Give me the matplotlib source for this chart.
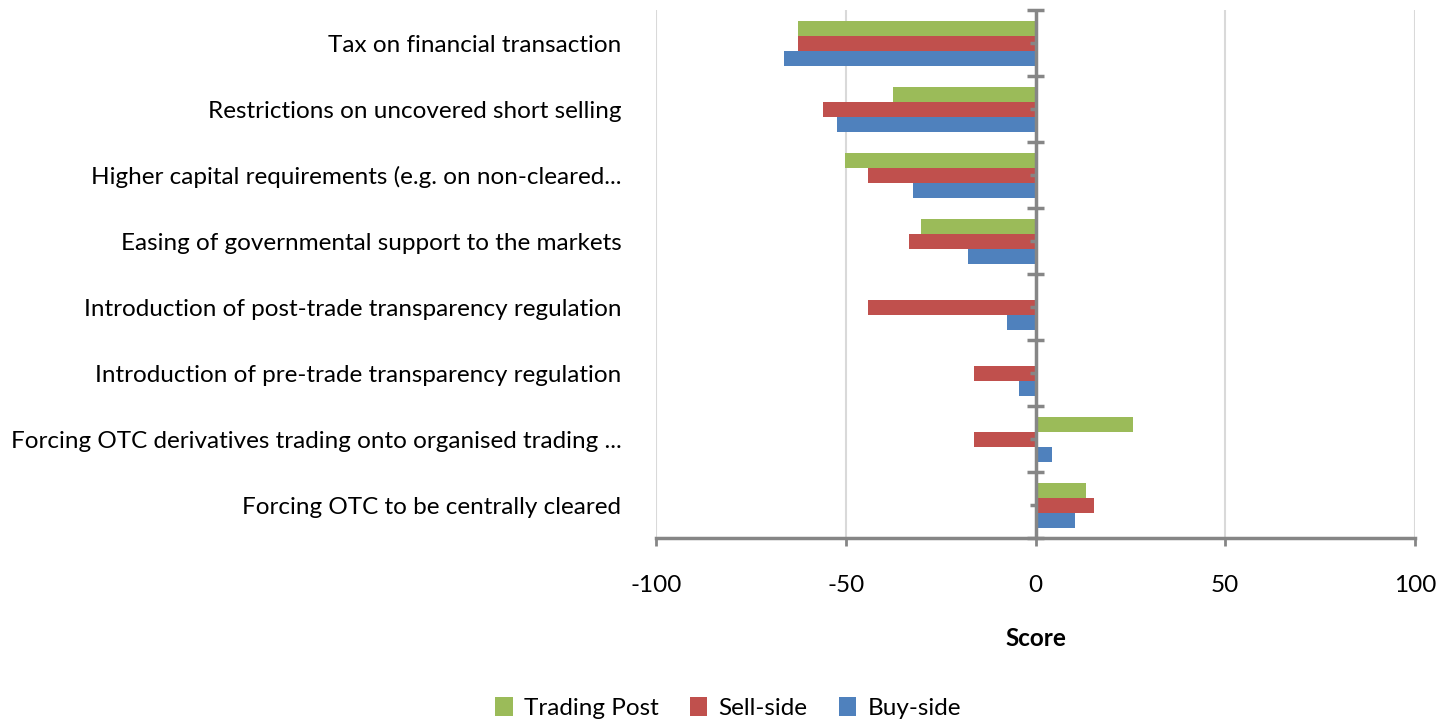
import matplotlib
matplotlib.use('Agg')
import matplotlib.pyplot as plt
import numpy as np

# categories, top to bottom
categories = [
    "Tax on financial transaction",
    "Restrictions on uncovered short selling",
    "Higher capital requirements (e.g. on non-cleared...",
    "Easing of governmental support to the markets",
    "Introduction of post-trade transparency regulation",
    "Introduction of pre-trade transparency regulation",
    "Forcing OTC derivatives trading onto organised trading ...",
    "Forcing OTC to be centrally cleared",
]
trading_post = [-62.7, -37.5, -50.3, -30.1, 0.0, 0.0, 25.7, 13.2]
sell_side = [-62.7, -56.1, -44.2, -33.3, -44.2, -16.3, -16.3, 15.3]
buy_side = [-66.4, -52.4, -32.2, -17.9, -7.5, -4.3, 4.4, 10.3]
x_ticks = [-100, -50, 0, 50, 100]

green = '#9BBB59'
red = '#C0504D'
blue = '#4F81BD'
axis_gray = '#868686'

plt.rcParams['font.family'] = ['Lato', 'DejaVu Sans']
fs = 17.5

fig = plt.figure(figsize=(14.37, 7.22), dpi=100)
ax = fig.add_axes([656 / 1437, 1 - 538 / 722, (1415 - 656) / 1437, (538 - 10) / 722])

y = np.arange(len(categories))
h = 15 / 66
ax.barh(y - h, trading_post, height=h, color=green, label='Trading Post', zorder=2)
ax.barh(y, sell_side, height=h, color=red, label='Sell-side', zorder=2)
ax.barh(y + h, buy_side, height=h, color=blue, label='Buy-side', zorder=2)

ax.set_xlim(-100, 100)
ax.set_ylim(len(categories) - 0.5, -0.5)

# zero axis with its tick marks
ax.axvline(0, color=axis_gray, lw=2.5, zorder=3)
bounds = np.arange(len(categories) + 1) - 0.5
ax.hlines(bounds, -2.3, 2.3, color=axis_gray, lw=2.5, zorder=3, clip_on=False)
ax.hlines(y, -1.5, 0, color=axis_gray, lw=2.5, zorder=3)

ax.set_yticks(y, categories, fontsize=fs)
ax.tick_params(axis='y', length=0, pad=25)

ax.set_xticks(x_ticks, [str(t) for t in x_ticks], fontsize=fs)
ax.tick_params(axis='x', length=6, width=2, color=axis_gray, pad=21)
ax.grid(axis='x', color='#D9D9D9', lw=1.5, zorder=0)
ax.set_axisbelow(True)

for s in ['top', 'right', 'left']:
    ax.spines[s].set_visible(False)
ax.spines['bottom'].set_color(axis_gray)
ax.spines['bottom'].set_linewidth(2.5)

ax.set_xlabel('Score', fontsize=fs, fontweight='bold', labelpad=22)

fig.legend(loc='center', bbox_to_anchor=(728 / 1437, 1 - 708 / 722), ncol=3,
           frameon=False, fontsize=fs, handlelength=0.72, handleheight=0.85,
           columnspacing=1.3, handletextpad=0.45)

fig.savefig('out.png', dpi=100)
